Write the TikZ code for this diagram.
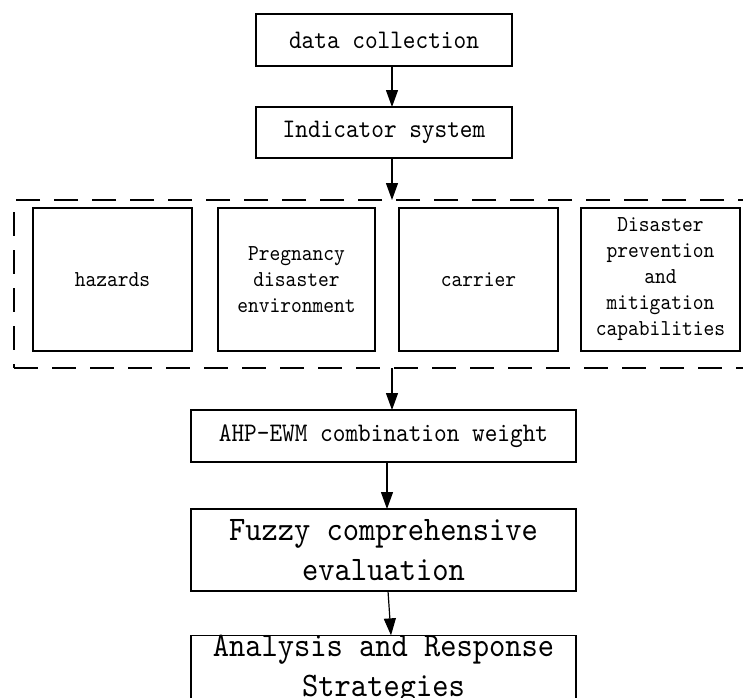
\documentclass[tikz,border=0pt]{standalone}
\usepackage{fontspec}
\newfontfamily\monoc{lmmono10-regular.otf}[FakeStretch=0.9]
\usetikzlibrary{arrows.meta}
\begin{document}
\begin{tikzpicture}[x=1pt,y=-1pt,
  box/.style={draw, line width=1.3pt, inner sep=0pt, outer sep=0pt, align=center,
    font=\monoc\fontsize{26.8}{30}\selectfont},
  subbox/.style={box, minimum height=143pt,
    font=\monoc\fontsize{22.8}{26}\selectfont},
  bigbox/.style={box, minimum width=385pt,
    font=\monoc\fontsize{34.4}{40}\selectfont},
  groupbox/.style={draw, line width=1.3pt, dash pattern=on 24pt off 14pt, inner sep=0pt, outer sep=0pt},
  arr/.style={line width=1.2pt, -{Triangle[length=17pt,width=12pt]}}]
\useasboundingbox (0,0) rectangle (743,697);
\clip (0,0) rectangle (743,697);

\node[box, minimum width=256pt, minimum height=52pt] (dc) at (384,40) {data collection};
\node[box, minimum width=256pt, minimum height=51pt] (is) at (384,132.5) {Indicator system};

\node[groupbox, minimum width=746pt, minimum height=168pt] (grp) at (387,284) {};

\node[subbox, minimum width=159pt] (haz) at (112.5,279.5) {hazards};
\node[subbox, minimum width=157pt] (preg) at (296.5,279.5) {Pregnancy\\disaster\\environment};
\node[subbox, minimum width=159pt] (car) at (478.5,279.5) {carrier};
\node[subbox, minimum width=159pt] (dpm) at (660.5,279.5) {Disaster\\prevention\\and\\mitigation\\capabilities};

\node[box, minimum width=385pt, minimum height=52pt] (ahp) at (383.5,436) {AHP-EWM combination weight};
\node[bigbox, minimum height=82pt] (fz) at (383.5,550) {Fuzzy comprehensive\\evaluation};
\node[bigbox, minimum height=64pt] (ana) at (383.5,670) {Analysis and Response\\Strategies};

\draw[arr] ([xshift=8pt]dc.south) -- ([xshift=8pt]is.north);
\draw[arr] ([xshift=8pt]is.south) -- ([xshift=5pt]grp.north);
\draw[arr] ([xshift=5pt]grp.south) -- ([xshift=8.5pt]ahp.north);
\draw[arr] ([xshift=3.5pt]ahp.south) -- ([xshift=3.5pt]fz.north);
\draw[arr] ([xshift=4.5pt]fz.south) -- ([xshift=7.5pt]ana.north);
\end{tikzpicture}
\end{document}
